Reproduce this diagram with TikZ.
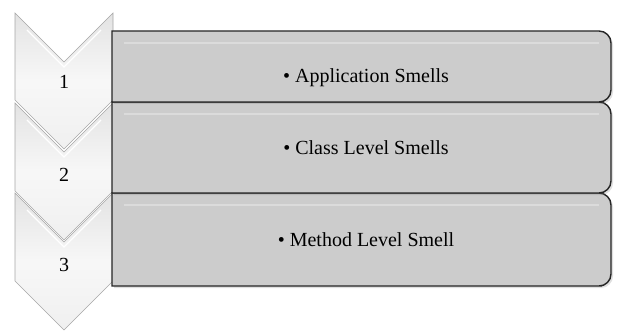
\documentclass[tikz,border=0pt]{standalone}
\usepackage{fontspec}
\setmainfont{Liberation Serif}
\usetikzlibrary{shadows}

\tikzset{
  chev/.style={draw=gray!70,line width=0.6pt,top color=gray!22,bottom color=gray!12,middle color=gray!6},
  chevbevel/.style={draw=white,line width=1.2pt},
  smellbox/.style={draw=black!85,line width=1.4pt,fill=gray!40,
    drop shadow={shadow xshift=2pt,shadow yshift=-2pt,opacity=0.25}},
  boxbevel/.style={draw=gray!28,line width=1.5pt},
  lbl/.style={font=\fontsize{20}{24}\selectfont,inner sep=0pt},
}

\begin{document}
\begin{tikzpicture}[x=1pt,y=-1pt]
  \useasboundingbox (0,0) rectangle (621,334);
  %chevrons, the last one lies at the back
  \draw[chev] (15,193) -- (64,242) -- (113,193) -- (113,281) -- (64,330) -- (15,281) -- cycle;
  \draw[chevbevel] (27,210) -- (64,247) -- (101,210);
  \draw[chev] (15,103) -- (64,152) -- (113,103) -- (113,191) -- (64,240) -- (15,191) -- cycle;
  \draw[chevbevel] (27,120) -- (64,157) -- (101,120);
  \draw[chev] (15,13) -- (64,62) -- (113,13) -- (113,100) -- (64,149) -- (15,100) -- cycle;
  \draw[chevbevel] (27,30) -- (64,67) -- (101,30);
  %boxes
  \draw[smellbox] (112,193) -- (590,193) [rounded corners=12pt] -- (611,193) -- (611,286)
    -- (590,286) [sharp corners] -- (112,286) -- cycle;
  \draw[boxbevel] (124,205) -- (599,205);
  \draw[smellbox] (112,102) -- (590,102) [rounded corners=12pt] -- (611,102) -- (611,193)
    -- (590,193) [sharp corners] -- (112,193) -- cycle;
  \draw[boxbevel] (124,114) -- (599,114);
  \draw[smellbox] (112,31) -- (590,31) [rounded corners=12pt] -- (611,31) -- (611,102)
    -- (590,102) [sharp corners] -- (112,102) -- cycle;
  \draw[boxbevel] (124,43) -- (599,43);
  %texts
  \node[lbl] (n1) at (64,82) {1};
  \node[lbl] (n2) at (64,175) {2};
  \node[lbl] (n3) at (64,265) {3};
  \node[lbl] (app) at (366,78) {\textbullet\ Application Smells};
  \node[lbl] (cls) at (366,148) {\textbullet\ Class Level Smells};
  \node[lbl] (mth) at (366,240) {\textbullet\ Method Level Smell};
\end{tikzpicture}
\end{document}
